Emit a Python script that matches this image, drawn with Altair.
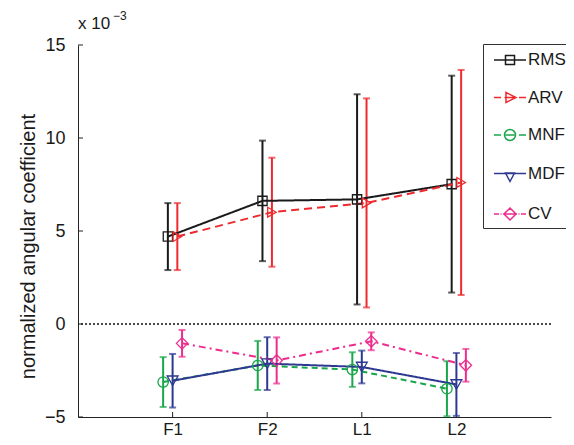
import altair as alt
import pandas as pd

# ---- data (values in units of 10^-3) ----
categories = ["F1", "F2", "L1", "L2"]
series = ["RMS", "ARV", "MNF", "MDF", "CV"]
rms_mean = [4.70, 6.62, 6.70, 7.52]
rms_sd = [1.80, 3.24, 5.65, 5.83]
arv_mean = [4.70, 6.01, 6.51, 7.61]
arv_sd = [1.80, 2.93, 5.62, 6.05]
mnf_mean = [-3.12, -2.23, -2.45, -3.48]
mnf_sd = [1.34, 1.32, 0.93, 1.48]
mdf_mean = [-3.05, -2.13, -2.31, -3.25]
mdf_sd = [1.44, 1.42, 0.88, 1.69]
cv_mean = [-1.04, -1.96, -0.93, -2.22]
cv_sd = [0.72, 1.24, 0.48, 0.88]
y_ticks = [-5, 0, 5, 10, 15]

means = {"RMS": rms_mean, "ARV": arv_mean, "MNF": mnf_mean, "MDF": mdf_mean, "CV": cv_mean}
sds = {"RMS": rms_sd, "ARV": arv_sd, "MNF": mnf_sd, "MDF": mdf_sd, "CV": cv_sd}

# ---- styles ----
colors = ["#1a1a1a", "#ee2a2e", "#1aa64a", "#2d3991", "#ec2d8e"]
dashes = [[1, 0], [8, 5], [6, 4], [1, 0], [7, 4, 2, 4]]
shapes = ["square", "triangle-right", "circle", "triangle-down", "diamond"]
sizes = [85, 130, 150, 130, 150]
offsets = {"RMS": -0.05, "ARV": 0.05, "MNF": -0.10, "MDF": 0.0, "CV": 0.10}

legend_paths = [
    "M-1.6,0H1.6M-0.45,-0.45H0.45V0.45H-0.45Z",
    "M-1.6,0H-0.9M-0.55,0H0.55M0.9,0H1.6M-0.4,-0.5L0.6,0L-0.4,0.5Z",
    "M-1.6,0H-0.9M-0.45,0H0.45M0.9,0H1.6M0.55,0A0.55,0.55,0,1,1,-0.55,0A0.55,0.55,0,1,1,0.55,0Z",
    "M-1.6,0H1.6M-0.45,-0.05L0.45,-0.05L0,0.8Z",
    "M-1.6,0H-1.1M-0.95,0H-0.85M-0.7,0H0.7M0.85,0H0.95M1.1,0H1.6M0,-0.6L0.6,0L0,0.6L-0.6,0Z",
]

rows = []
for s in series:
    for i, c in enumerate(categories):
        m = means[s][i]
        d = sds[s][i]
        rows.append({"series": s, "cat": c, "x": i + 1 + offsets[s], "mean": m,
                     "lo": m - d, "hi": m + d})
df = pd.DataFrame(rows)

FONT = "Liberation Sans"
TXT = "#1a1a1a"

label_expr = "['', " + ", ".join(f"'{c}'" for c in categories) + "][datum.value]"
x_axis = alt.Axis(values=list(range(1, len(categories) + 1)), labelExpr=label_expr,
                  ticks=False, tickSize=0, grid=False, title=None,
                  labelFontSize=17, labelPadding=4, labelFont=FONT, labelColor=TXT,
                  domainColor="#222222", domainWidth=1)
y_axis = alt.Axis(values=y_ticks, ticks=False, tickSize=0, grid=False,
                  title="normalized angular coefficient", titleFontSize=20,
                  titleFont=FONT, titleColor=TXT, titleFontWeight="normal", titlePadding=6,
                  titleY=201,
                  labelFontSize=18, labelPadding=13, labelFont=FONT, labelColor=TXT,
                  domainColor="#222222", domainWidth=1)
xs = alt.Scale(domain=[0, 5], nice=False, zero=False)
ys = alt.Scale(domain=[-5, 15], nice=False, zero=False)

def X(field):
    return alt.X(field, type="quantitative", scale=xs, axis=x_axis)

def Y(field):
    return alt.Y(field, type="quantitative", scale=ys, axis=y_axis)

color_scale = alt.Scale(domain=series, range=colors)

base = alt.Chart(df)

zero_line = alt.Chart(pd.DataFrame({"v": [0]})).mark_rule(
    color="#111111", strokeDash=[2, 2], strokeWidth=1.3
).encode(y=Y("v"))

ytick_layer = alt.Chart(pd.DataFrame({"v": y_ticks})).mark_rule(
    color="#222222", strokeWidth=1
).encode(y=Y("v"), x=alt.value(0), x2=alt.value(5))

xtick_layer = alt.Chart(pd.DataFrame({"v": list(range(1, len(categories) + 1))})).mark_rule(
    color="#222222", strokeWidth=1
).encode(x=X("v"), y=alt.value(372), y2=alt.value(367))

err = base.mark_rule(strokeWidth=2).encode(
    x=X("x"), y=Y("lo"), y2="hi:Q",
    color=alt.Color("series:N", scale=color_scale, legend=None),
)
cap_lo = base.mark_tick(orient="horizontal", size=7, thickness=2).encode(
    x=X("x"), y=Y("lo"),
    color=alt.Color("series:N", scale=color_scale, legend=None),
)
cap_hi = base.mark_tick(orient="horizontal", size=7, thickness=2).encode(
    x=X("x"), y=Y("hi"),
    color=alt.Color("series:N", scale=color_scale, legend=None),
)
lines = base.mark_line(strokeWidth=2).encode(
    x=X("x"), y=Y("mean"),
    color=alt.Color("series:N", scale=color_scale, legend=None),
    strokeDash=alt.StrokeDash("series:N", scale=alt.Scale(domain=series, range=dashes), legend=None),
    detail="series:N",
)
points = base.mark_point(filled=False, strokeWidth=1.3, opacity=1).encode(
    x=X("x"), y=Y("mean"),
    color=alt.Color("series:N", scale=color_scale, legend=None),
    shape=alt.Shape("series:N", scale=alt.Scale(domain=series, range=shapes), legend=None),
    size=alt.Size("series:N", scale=alt.Scale(domain=series, range=sizes), legend=None),
)

leg = alt.Legend(title=None, orient="none", legendX=405, legendY=-1,
                 symbolSize=400, symbolStrokeWidth=1.5, symbolOffset=11,
                 labelFontSize=17, labelFont=FONT, labelColor=TXT, labelOffset=7,
                 rowPadding=18.5, padding=5, strokeColor="#333333", fillColor="white",
                 labelLimit=200)
legend_layer = base.transform_filter("false").mark_point(filled=False, opacity=1).encode(
    x=X("x"), y=Y("mean"),
    color=alt.Color("series:N", scale=color_scale, legend=leg),
    shape=alt.Shape("series:N", scale=alt.Scale(domain=series, range=legend_paths), legend=leg),
)

txt1 = alt.Chart(pd.DataFrame({"t": ["x 10"]})).mark_text(
    align="left", baseline="alphabetic", fontSize=17, font=FONT, color=TXT
).encode(text="t:N", x=alt.value(0), y=alt.value(-16))
txt2 = alt.Chart(pd.DataFrame({"t": ["\u22123"]})).mark_text(
    align="left", baseline="alphabetic", fontSize=12, font=FONT, color=TXT
).encode(text="t:N", x=alt.value(35), y=alt.value(-25))

chart = alt.layer(
    zero_line, ytick_layer, xtick_layer, err, cap_lo, cap_hi, lines, points, legend_layer, txt1, txt2
).resolve_scale(
    color="independent", shape="independent", strokeDash="independent", size="independent"
).properties(
    width=473, height=372,
    padding={"left": 70, "top": 37, "right": 15, "bottom": 20},
    autosize=alt.AutoSizeParams(type="none"),
).configure_view(stroke=None)

chart.save("out.html", embed_options={"renderer": "svg", "actions": False})
